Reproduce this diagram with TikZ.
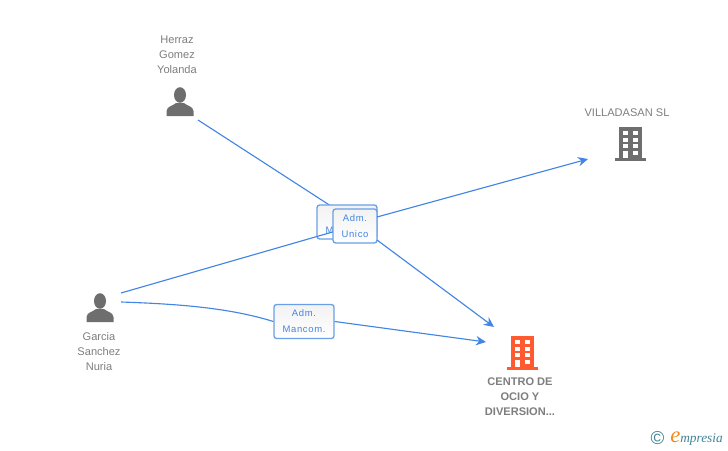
\documentclass[tikz,border=0pt]{standalone}
\usepackage{fontspec}
\setmainfont{Liberation Sans}
\newfontfamily\logofont{Liberation Serif}
\usetikzlibrary{arrows.meta}
\definecolor{EdgeBlue}{HTML}{4285E4}
\definecolor{BoxBlue}{HTML}{6A9FE8}
\definecolor{IconGray}{HTML}{6E6E6E}
\definecolor{NameGray}{HTML}{7E7E7E}
\definecolor{MainOrange}{HTML}{FF5A30}
\definecolor{LogoTeal}{HTML}{3F8296}
\definecolor{LogoOrange}{HTML}{F08A1E}
\tikzstyle{NameNode}=[align=center, text=NameGray, font=\fontsize{8.3pt}{11.25pt}\selectfont, inner sep=0pt]
\tikzstyle{MainNode}=[NameNode, font=\fontsize{8.3pt}{11.25pt}\selectfont\bfseries]
\tikzstyle{RoleNode}=[draw=BoxBlue, line width=1pt, rounded corners=2pt, top color=black!5, bottom color=white, align=center, text=EdgeBlue, font=\fontsize{7.1pt}{12pt}\selectfont\addfontfeature{LetterSpace=7}, inner sep=0pt, text width=#1, minimum height=25.5pt]
\tikzstyle{OpenEdge}=[draw=EdgeBlue, line width=0.85pt]
\tikzstyle{ArrowEdge}=[OpenEdge, -{Stealth[length=7.5pt,width=7pt]}]
\newcommand{\PersonIcon}[2]{% bottom centre, colour
  \begin{scope}[shift={(#1)}]
  \fill[#2] (0,-21) ellipse (6 and 7.8);
  \fill[#2] (-13.5,0) -- (-13.5,-5) .. controls (-13,-10) and (-7,-10) .. (-4,-13) -- (4,-13) .. controls (7,-10) and (13,-10) .. (13.5,-5) -- (13.5,0) -- cycle;
  \end{scope}
}
\newcommand{\BuildingIcon}[2]{% bottom centre, colour
  \begin{scope}[shift={(#1)}]
  \fill[#2] (-11,-3) rectangle (11.5,-34);
  \fill[#2] (-15.5,0) rectangle (15.5,-3);
  \foreach \row in {-30,-23.5,-17} {
    \fill[white] (-7,\row) rectangle (-2.5,\row+4);
    \fill[white] (3,\row) rectangle (7.5,\row+4);
  }
  \fill[white] (-7,-10) rectangle (-2.5,-3);
  \fill[white] (3,-10) rectangle (7.5,-6);
  \end{scope}
}

\begin{document}
\begin{tikzpicture}[x=0.75pt,y=-0.75pt]
\useasboundingbox (0,0) rectangle (728,450);

\coordinate (HerrazOut) at (198,120);
\coordinate (MancIn) at (334,208);
\coordinate (GarciaUp) at (121,293);
\coordinate (GarciaIn) at (336,231);
\coordinate (GarciaDown) at (121,302);
\coordinate (VillaOut) at (377,217);
\coordinate (VillaIn) at (588,159);
\coordinate (CentroOut) at (377,240);
\coordinate (CentroUp) at (494,327);
\coordinate (CentroDown) at (486,342);

\draw[OpenEdge](HerrazOut) -- (MancIn);

\node[RoleNode=45pt](MANC) at (347,222) {Adm.\\Mancom.};
\draw[OpenEdge](GarciaUp) -- (GarciaIn);
\node[RoleNode=33pt](UNICO) at (355,226) {Adm.\\Unico};
\node[RoleNode=45pt](MANCOM) at (304,321.5) {Adm.\\Mancom.};

\draw[ArrowEdge](VillaOut) -- (VillaIn);
\draw[ArrowEdge](CentroOut) -- (CentroUp);
\draw[OpenEdge](GarciaDown) .. controls (180,304) and (230,308) .. (MANCOM.west);
\draw[ArrowEdge](MANCOM.east) -- (CentroDown);

\PersonIcon{180,116}{IconGray}
\PersonIcon{100,322}{IconGray}
\BuildingIcon{630,161}{IconGray}
\BuildingIcon{522,370}{MainOrange}

\node[NameNode](HERRAZ) at (177,55) {Herraz\\Gomez\\Yolanda};
\node[NameNode](GARCIA) at (99,352) {Garcia\\Sanchez\\Nuria};
\node[NameNode](VILLA) at (627,113) {VILLADASAN SL};
\node[MainNode](CENTRO) at (520,397) {CENTRO DE\\OCIO Y\\DIVERSION...};

\node[text=LogoTeal, font=\fontsize{14pt}{14pt}\selectfont, inner sep=0pt](COPY) at (657.5,438.5) {©};
\node[text=LogoTeal, font=\fontsize{10pt}{10pt}\selectfont\logofont\itshape, inner sep=0pt, anchor=west](LOGO) at (670,438.5) {\textcolor{LogoOrange}{\fontsize{17pt}{17pt}\selectfont e}mpresia};
\end{tikzpicture}
\end{document}
